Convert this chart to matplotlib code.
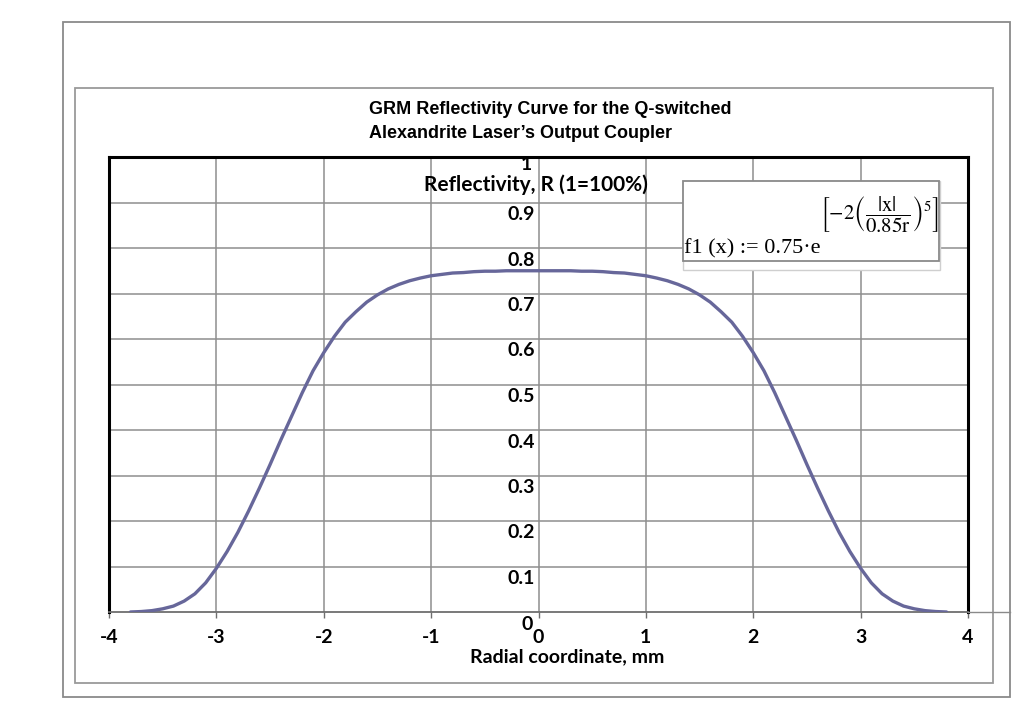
import matplotlib
matplotlib.use("Agg")
import matplotlib.pyplot as plt
from matplotlib.patches import Rectangle
from matplotlib.lines import Line2D
from matplotlib.transforms import offset_copy

# ---- data ----
radial_mm = [-3.8, -3.7, -3.6, -3.5, -3.4, -3.3, -3.2, -3.1, -3.0, -2.9, -2.8, -2.7, -2.6,
             -2.5, -2.4, -2.3, -2.2, -2.1, -2.0, -1.9, -1.8, -1.7, -1.6, -1.5, -1.4, -1.3,
             -1.2, -1.1, -1.0, -0.9, -0.8, -0.7, -0.6, -0.5, -0.4, -0.3, -0.2, -0.1, 0.0,
             0.1, 0.2, 0.3, 0.4, 0.5, 0.6, 0.7, 0.8, 0.9, 1.0, 1.1, 1.2, 1.3, 1.4, 1.5,
             1.6, 1.7, 1.8, 1.9, 2.0, 2.1, 2.2, 2.3, 2.4, 2.5, 2.6, 2.7, 2.8, 2.9, 3.0,
             3.1, 3.2, 3.3, 3.4, 3.5, 3.6, 3.7, 3.8]
reflectivity = [0.000, 0.001, 0.003, 0.007, 0.013, 0.024, 0.040, 0.064, 0.096, 0.133, 0.175,
                0.222, 0.272, 0.324, 0.378, 0.430, 0.482, 0.530, 0.570, 0.606, 0.637, 0.660,
                0.681, 0.697, 0.710, 0.720, 0.728, 0.734, 0.739, 0.742, 0.745, 0.746, 0.748,
                0.749, 0.749, 0.750, 0.750, 0.750, 0.750,
                0.750, 0.750, 0.750, 0.749, 0.749, 0.748, 0.746, 0.745, 0.742, 0.739, 0.734,
                0.728, 0.720, 0.710, 0.697, 0.681, 0.660, 0.637, 0.606, 0.570, 0.530, 0.482,
                0.430, 0.378, 0.324, 0.272, 0.222, 0.175, 0.133, 0.096, 0.064, 0.040, 0.024,
                0.013, 0.007, 0.003, 0.001, 0.000]
x_ticks = [-4, -3, -2, -1, 0, 1, 2, 3, 4]
x_tick_labels = ["-4", "-3", "-2", "-1", "0", "1", "2", "3", "4"]
y_ticks = [0, 0.1, 0.2, 0.3, 0.4, 0.5, 0.6, 0.7, 0.8, 0.9, 1]
y_tick_labels = ["0", "0.1", "0.2", "0.3", "0.4", "0.5", "0.6", "0.7", "0.8", "0.9", "1"]
title_lines = ["GRM Reflectivity Curve for the Q-switched", "Alexandrite Laser\u2019s Output Coupler"]
x_label = "Radial coordinate, mm"
y_label = "Reflectivity, R (1=100%)"

W, H = 1024, 722
plt.rcParams["mathtext.fontset"] = "stix"
fig = plt.figure(figsize=(W / 100, H / 100), dpi=100)


def fx(px):
    return px / W


def fy(py):
    return 1 - py / H


# frames
fig.add_artist(Rectangle((fx(63), fy(697)), fx(1010) - fx(63), fy(22) - fy(697),
                         fill=False, edgecolor="#8a8a8a", lw=1.3, zorder=0))
fig.add_artist(Rectangle((fx(75), fy(683)), fx(993) - fx(75), fy(88) - fy(683),
                         fill=False, edgecolor="#9a9a9a", lw=1.3, zorder=0))

left, right, top, bottom = 109, 968, 157, 612
ax = fig.add_axes([fx(left), fy(bottom), fx(right) - fx(left), fy(top) - fy(bottom)])
ax.set_xlim(-4, 4)
ax.set_ylim(0, 1)

grid_c = "#8e8e8e"
for v in x_ticks[1:-1]:
    ax.axvline(v, color=grid_c, lw=1.1, zorder=1)
for v in y_ticks[1:-1]:
    ax.axhline(v, color=grid_c, lw=1.1, zorder=1)

ax.plot(radial_mm, reflectivity, color="#67679a", lw=2.4, zorder=3,
        solid_capstyle="round", solid_joinstyle="round")

for s in ["left", "top", "right"]:
    ax.spines[s].set_color("black")
    ax.spines[s].set_linewidth(2.2)
ax.spines["bottom"].set_color("#6e6e6e")
ax.spines["bottom"].set_linewidth(1.3)

lab_font = dict(family=["Lato", "DejaVu Sans"], fontweight="bold", fontsize=14)
ax.set_xticks(x_ticks)
ax.set_xticklabels(x_tick_labels, **lab_font)
ax.set_yticks([])
ax.tick_params(axis="x", direction="out", length=4, width=1.0, color="#6e6e6e", pad=8)

# y tick labels placed beside the zero line
for v, t in zip(y_ticks, y_tick_labels):
    ax.text(0, v, t, transform=offset_copy(ax.transData, fig=fig, x=(-6 if v in (0, 1) else -4),
                                           y=(-12 if v != 1 else -7), units="dots"),
            ha="right", va="center", zorder=4, **lab_font)

ax.text(0, 1, y_label, transform=offset_copy(ax.transData, fig=fig, x=-3, y=-28, units="dots"),
        ha="center", va="center", zorder=4, family=["Lato", "DejaVu Sans"],
        fontweight="bold", fontsize=15)

fig.text(fx(567), fy(657), x_label, ha="center", va="center", **lab_font)

# title
fig.text(fx(369), fy(110), title_lines[0], ha="left", va="center",
         family=["Liberation Sans", "DejaVu Sans"], fontweight="bold", fontsize=13)
fig.text(fx(369), fy(134), title_lines[1], ha="left", va="center",
         family=["Liberation Sans", "DejaVu Sans"], fontweight="bold", fontsize=13)

# extension of bottom axis line beyond right border
fig.add_artist(Line2D([fx(968), fx(1010)], [fy(612), fy(612)], color="#8a8a8a", lw=1.0))

# formula box
fig.add_artist(Rectangle((fx(683), fy(270)), fx(940) - fx(683), fy(181) - fy(270),
                         facecolor="white", edgecolor="#cfcfcf", lw=1.0, zorder=5))
fig.add_artist(Rectangle((fx(683), fy(261)), fx(939) - fx(683), fy(181) - fy(261),
                         facecolor="white", edgecolor="#8a8a8a", lw=1.3, zorder=6))
fig.text(fx(684), fy(253), "f1 (x) := 0.75\u00b7e", ha="left", va="baseline",
         family=["Liberation Serif", "DejaVu Serif"], fontsize=16, zorder=7)
fig.text(fx(820), fy(215), r"$\left[-2\left(\dfrac{|\mathrm{x}|}{0.85\mathrm{r}}\right)^{5}\right]$",
         ha="left", va="center", fontsize=15, zorder=7)

fig.savefig("out.png", dpi=100)
